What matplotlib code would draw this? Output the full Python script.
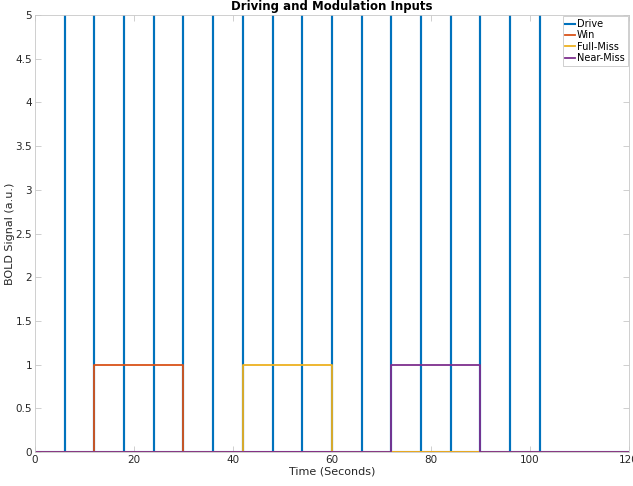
import matplotlib.pyplot as plt

# %% Data
drive_onsets = [6, 12, 18, 24, 30, 36, 42, 48, 54, 60, 66, 72, 78, 84, 90, 96, 102]
drive_peak = 6
t_end = 120

# block modulators: (start, stop) in seconds, amplitude 1
win_block = [12, 30]
fullmiss_block = [42, 60]
nearmiss_block = [72, 90]
block_height = 1

xticks = [0, 20, 40, 60, 80, 100, 120]
yticks = [0, 0.5, 1, 1.5, 2, 2.5, 3, 3.5, 4, 4.5, 5]
ytick_labels = ['0', '0.5', '1', '1.5', '2', '2.5', '3', '3.5', '4', '4.5', '5']

# %% Build step series
drive_x, drive_y = [0], [0]
for s in drive_onsets:
    drive_x += [s, s, s]
    drive_y += [0, drive_peak, 0]
drive_x.append(t_end)
drive_y.append(0)


def block(b):
    return [0, b[0], b[0], b[1], b[1], t_end], [0, 0, block_height, block_height, 0, 0]


# %% Plot
plt.rcParams['font.family'] = 'DejaVu Sans'
fig = plt.figure(figsize=(6.33, 4.86), dpi=100)
ax = fig.add_axes([0.0553, 0.07, 0.938, 0.899])

ax.plot(drive_x, drive_y, color='#0072BD', lw=1.5, label='Drive')
x, y = block(win_block)
ax.plot(x, y, color='#D95319', lw=1.3, label='Win')
x, y = block(fullmiss_block)
ax.plot(x, y, color='#EDB120', lw=1.3, label='Full-Miss')
x, y = block(nearmiss_block)
ax.plot(x, y, color='#7E2F8E', lw=1.3, label='Near-Miss')

ax.set_xlim(0, 120)
ax.set_ylim(0, 5)
ax.set_xticks(xticks)
ax.set_yticks(yticks)
ax.set_yticklabels(ytick_labels)
ax.tick_params(direction='in', length=4, width=0.6, color='#c8c8c8',
               labelsize=7.5, labelcolor='#262626', top=True, right=True, pad=2)
for sp in ax.spines.values():
    sp.set_color('#c8c8c8')
    sp.set_linewidth(0.6)

ax.set_xlabel('Time (Seconds)', fontsize=8, color='#262626', labelpad=1)
ax.set_ylabel('BOLD Signal (a.u.)', fontsize=8, color='#262626')
ax.yaxis.set_label_coords(-0.034, 0.5)
ax.set_title('Driving and Modulation Inputs', fontsize=8.5, fontweight='bold', pad=4)

leg = ax.legend(loc='upper right', fontsize=7, handlelength=1.0, handletextpad=0.2,
                labelspacing=0.15, borderpad=0.3, borderaxespad=0.1, fancybox=False,
                framealpha=1, edgecolor='#c8c8c8')
leg.get_frame().set_linewidth(0.6)

plt.savefig('out.png', dpi=100)
